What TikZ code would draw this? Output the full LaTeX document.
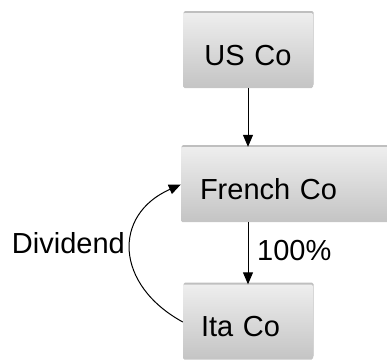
\documentclass[tikz,border=0pt]{standalone}
\usepackage{fontspec}
\setmainfont{Liberation Sans}
\usetikzlibrary{arrows.meta,shadows}
\definecolor{boxtop}{RGB}{238,238,238}
\definecolor{boxbot}{RGB}{196,196,196}
\tikzset{
  cobox/.style={rectangle, rounded corners=1.5pt, top color=boxtop, bottom color=boxbot,
    minimum height=75pt, text height=29pt, text depth=0pt, inner xsep=18pt,
    font=\fontsize{29}{33}\selectfont,
    general shadow={fill=black, opacity=0.25, shadow xshift=0.5pt, shadow yshift=2pt}},
  link/.style={-{Triangle[length=12pt,width=10pt]}, line width=1pt},
  lbl/.style={font=\fontsize{29}{33}\selectfont, inner sep=0pt}
}
\begin{document}
\begin{tikzpicture}[x=1pt,y=1pt,yscale=-1,xscale=1]
    \useasboundingbox (0,0) rectangle (387,359);
    % companies
    \node[cobox, text width=94pt, align=center] (us) at (248,50.5) {US Co};
    \node[cobox, text width=174pt, inner xsep=19pt, align=left] (french) at (287,184.5) {French Co};
    \node[cobox, text width=94pt, align=left] (ita) at (248,322) {Ita Co};
    % ownership
    \draw[link] (us.south) -- (us.south |- french.north);
    \draw[link] (french.south -| ita.north) -- (ita.north);
    \node[lbl, anchor=west] (pct) at (257,251) {100\%};
    % dividend
    \draw[link] (ita.west) .. controls (115,285) and (112,215) .. (french.west);
    \node[lbl, anchor=east] (div) at (125,243.5) {Dividend};
\end{tikzpicture}
\end{document}
